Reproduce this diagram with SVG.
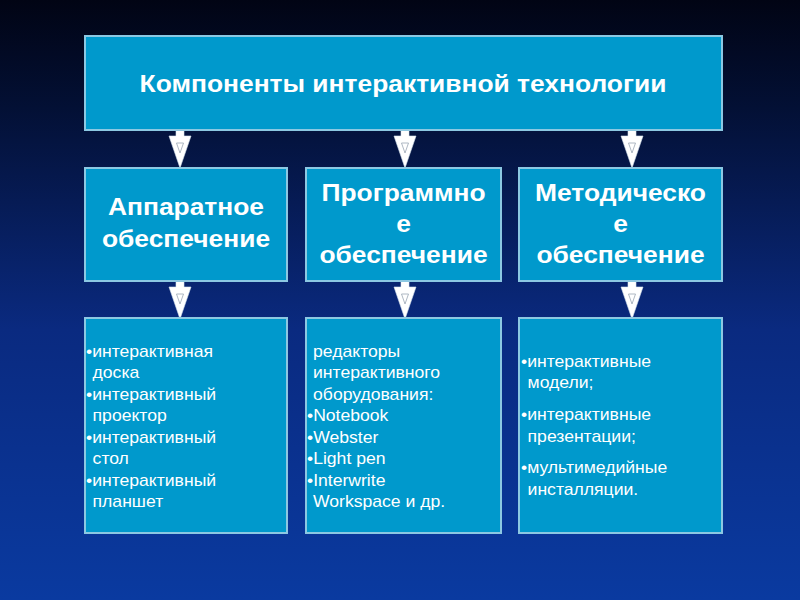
<svg xmlns="http://www.w3.org/2000/svg" width="800" height="600" viewBox="0 0 800 600">
<defs>
<linearGradient id="bg" x1="0" y1="0" x2="0" y2="1">
<stop offset="0" stop-color="#010414"/>
<stop offset="0.18" stop-color="#031035"/>
<stop offset="0.55" stop-color="#0a2a80"/>
<stop offset="1" stop-color="#0a3aa0"/>
</linearGradient>
<g id="arrow">
<polygon points="-4,0 4,0 4,6 11,6 0,38 -11,6 -4,6" fill="#ffffff" stroke="#d9e6f0" stroke-width="0.6"/>
<polygon points="-3.5,13 3.5,13 0,23" fill="none" stroke="#9aa6b4" stroke-width="0.8"/>
</g>
</defs>
<style>
.box{fill:#0099cc;stroke:#8cc8e2;stroke-width:2}
.h{font-family:"Liberation Sans",Arial,sans-serif;font-weight:bold;font-size:24px;fill:#ffffff;text-anchor:middle}
.t{font-family:"Liberation Sans",Arial,sans-serif;font-size:16px;fill:#ffffff}
</style>
<rect x="0" y="0" width="800" height="600" fill="url(#bg)"/>

<g id="connectors">
<use href="#arrow" x="180" y="130"/>
<use href="#arrow" x="405" y="130"/>
<use href="#arrow" x="632" y="130"/>
<use href="#arrow" x="180" y="281"/>
<use href="#arrow" x="405" y="281"/>
<use href="#arrow" x="632" y="281"/>
</g>

<g id="top">
<rect class="box" x="85" y="36" width="637" height="94"/>
<text class="h" transform="translate(403 92) scale(1.1 1)">Компоненты интерактивной технологии</text>
</g>

<g id="hardware">
<rect class="box" x="85" y="168" width="202" height="113"/>
<text class="h" transform="translate(186 215) scale(1.1 1)">Аппаратное</text>
<text class="h" transform="translate(186 247) scale(1.1 1)">обеспечение</text>
</g>

<g id="software">
<rect class="box" x="306" y="168" width="195" height="113"/>
<text class="h" transform="translate(403.5 201) scale(1.1 1)">Программно</text>
<text class="h" transform="translate(403.5 232) scale(1.1 1)">е</text>
<text class="h" transform="translate(403.5 263) scale(1.1 1)">обеспечение</text>
</g>

<g id="methodical">
<rect class="box" x="519" y="168" width="203" height="113"/>
<text class="h" transform="translate(620.5 201) scale(1.1 1)">Методическо</text>
<text class="h" transform="translate(620.5 232) scale(1.1 1)">е</text>
<text class="h" transform="translate(620.5 263) scale(1.1 1)">обеспечение</text>
</g>

<g id="hardware-list">
<rect class="box" x="85" y="318" width="202" height="215"/>
<g transform="translate(86 0) scale(1.1 1)">
<text class="t" x="0" y="357">•интерактивная</text>
<text class="t" x="6" y="378">доска</text>
<text class="t" x="0" y="400">•интерактивный</text>
<text class="t" x="6" y="421">проектор</text>
<text class="t" x="0" y="443">•интерактивный</text>
<text class="t" x="6" y="464">стол</text>
<text class="t" x="0" y="486">•интерактивный</text>
<text class="t" x="6" y="507">планшет</text>
</g>
</g>

<g id="software-list">
<rect class="box" x="306" y="318" width="195" height="215"/>
<g transform="translate(307 0) scale(1.1 1)">
<text class="t" x="5.5" y="357">редакторы</text>
<text class="t" x="5.5" y="378">интерактивного</text>
<text class="t" x="5.5" y="400">оборудования:</text>
<text class="t" x="0" y="421">•Notebook</text>
<text class="t" x="0" y="443">•Webster</text>
<text class="t" x="0" y="464">•Light pen</text>
<text class="t" x="0" y="486">•Interwrite</text>
<text class="t" x="5.5" y="507">Workspace и др.</text>
</g>
</g>

<g id="methodical-list">
<rect class="box" x="519" y="318" width="203" height="215"/>
<g transform="translate(521 0) scale(1.1 1)">
<text class="t" x="0" y="367">•интерактивные</text>
<text class="t" x="6" y="388">модели;</text>
<text class="t" x="0" y="420">•интерактивные</text>
<text class="t" x="6" y="442">презентации;</text>
<text class="t" x="0" y="473">•мультимедийные</text>
<text class="t" x="6" y="495">инсталляции.</text>
</g>
</g>
</svg>
